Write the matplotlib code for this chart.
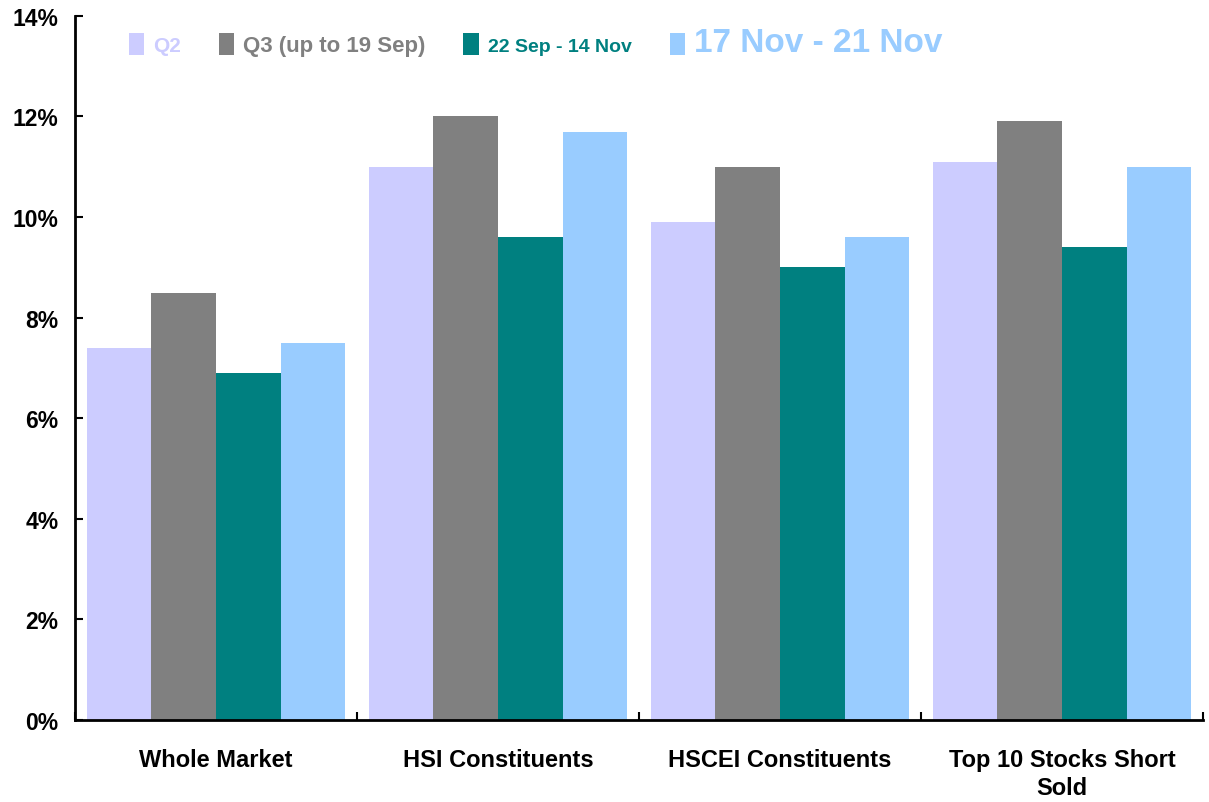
import matplotlib
matplotlib.use('Agg')
import matplotlib.pyplot as plt
import numpy as np
from matplotlib.ticker import PercentFormatter

plt.rcParams['font.family'] = ['Liberation Sans', 'DejaVu Sans']

categories = ['Whole Market', 'HSI Constituents', 'HSCEI Constituents', 'Top 10 Stocks Short\nSold']
series_names = ['Q2', 'Q3 (up to 19 Sep)', '22 Sep - 14 Nov', '17 Nov - 21 Nov']
q2 = [7.4, 11.0, 9.9, 11.1]
q3 = [8.5, 12.0, 11.0, 11.9]
sep_nov = [6.9, 9.6, 9.0, 9.4]
nov = [7.5, 11.7, 9.6, 11.0]

colors = ['#CCCCFF', '#808080', '#008080', '#99CCFF']
legend_sizes = [15, 16, 14, 24]

fig = plt.figure(figsize=(12.09, 8.03), dpi=100)
ax = fig.add_axes([0.062, 0.102, 0.933, 0.877])

x = np.arange(len(categories))
width = 0.229
for i, (vals, c, name) in enumerate(zip([q2, q3, sep_nov, nov], colors, series_names)):
    ax.bar(x + (i - 1.5) * width, vals, width, color=c, label=name)

ax.set_xlim(-0.5, len(categories) - 0.5)
ax.set_ylim(0, 14)
ax.set_yticks(np.arange(0, 15, 2))
ax.yaxis.set_major_formatter(PercentFormatter(decimals=0))

# category boundaries get the tick marks, names sit in the middle
ax.set_xticks(np.arange(-0.5, len(categories), 1.0))
ax.set_xticklabels([])
ax.set_xticks(x, minor=True)
ax.set_xticklabels(categories, minor=True, fontsize=17, fontweight='bold', linespacing=1.3)
ax.tick_params(axis='x', which='minor', length=0, pad=20)
ax.tick_params(axis='x', which='major', direction='in', length=6, width=1.5)
ax.tick_params(axis='y', direction='in', length=6, width=1.5, labelsize=16.5, pad=12)
for lab in ax.get_yticklabels():
    lab.set_fontweight('bold')

for s in ['top', 'right']:
    ax.spines[s].set_visible(False)
ax.spines['left'].set_linewidth(2)
ax.spines['bottom'].set_linewidth(2)

leg = ax.legend(loc='upper left', bbox_to_anchor=(0.03, 1.012), ncol=4, frameon=False,
                handlelength=0.7, handleheight=1.2, handletextpad=0.4, columnspacing=1.7,
                fontsize=16)
for t, c, fs in zip(leg.get_texts(), colors, legend_sizes):
    t.set_color(c)
    t.set_fontsize(fs)
    t.set_fontweight('bold')

fig.savefig('out.png', dpi=100)
